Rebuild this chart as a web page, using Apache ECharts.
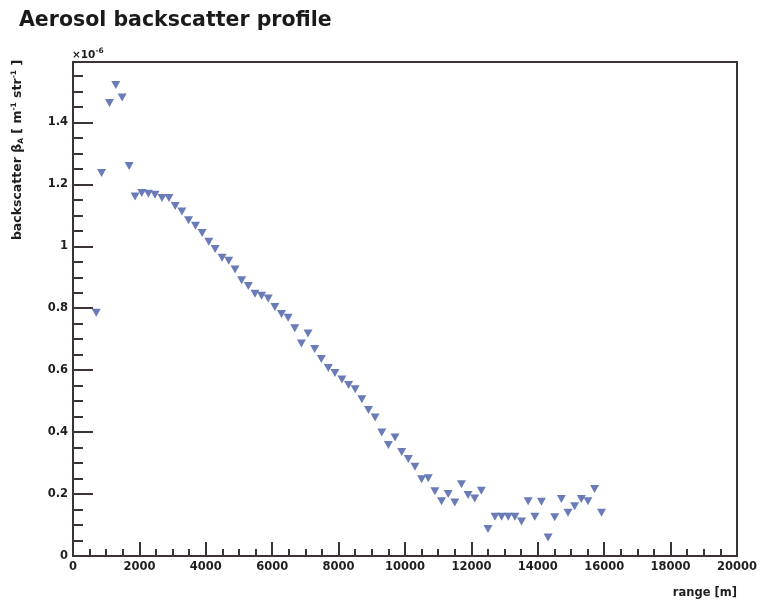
<!DOCTYPE html>
<html>
<head>
<meta charset="utf-8">
<script src="https://cdn.jsdelivr.net/npm/echarts@6/dist/echarts.min.js"></script>
<style>
html,body{margin:0;padding:0;background:#fff;}
#c{width:760px;height:603px;}
</style>
</head>
<body>
<div id="c"></div>
<script>
// range [m]
const rangeM = [700, 860, 1100, 1290, 1480, 1690, 1870, 2070, 2270, 2470, 2680, 2890, 3080, 3280, 3480, 3690, 3890, 4090, 4280, 4490,
  4690, 4880, 5080, 5280, 5480, 5680, 5880, 6080, 6280, 6480, 6680, 6880, 7080, 7280, 7480, 7690, 7890, 8100, 8300, 8500,
  8700, 8900, 9100, 9300, 9500, 9700, 9900, 10100, 10300, 10500, 10700, 10900, 11100, 11300, 11500, 11700, 11900, 12100, 12300, 12500,
  12710, 12910, 13110, 13310, 13510, 13710, 13910, 14110, 14310, 14510, 14710, 14910, 15110, 15310, 15510, 15710, 15920];
// backscatter beta_A [x1e-6 m^-1 str^-1]
const backscatter = [0.785, 1.237, 1.463, 1.521, 1.480, 1.259, 1.161, 1.172, 1.170, 1.166, 1.156, 1.156, 1.130, 1.112, 1.084, 1.066, 1.043, 1.015, 0.991, 0.963,
  0.953, 0.925, 0.890, 0.872, 0.847, 0.840, 0.831, 0.804, 0.781, 0.769, 0.735, 0.686, 0.718, 0.668, 0.636, 0.607, 0.591, 0.570, 0.552, 0.538,
  0.506, 0.471, 0.447, 0.399, 0.358, 0.383, 0.336, 0.313, 0.288, 0.248, 0.251, 0.209, 0.177, 0.200, 0.173, 0.232, 0.197, 0.186, 0.211, 0.087,
  0.127, 0.127, 0.127, 0.127, 0.111, 0.177, 0.127, 0.175, 0.060, 0.125, 0.184, 0.140, 0.161, 0.184, 0.177, 0.216, 0.140];
// axis ticks
const xTicks = [0, 2000, 4000, 6000, 8000, 10000, 12000, 14000, 16000, 18000, 20000];
const yTicks = [0, 0.2, 0.4, 0.6, 0.8, 1, 1.2, 1.4];

const FONT = '"DejaVu Sans", "Liberation Sans", sans-serif';
const AX = '#3a3434';
const TXT = '#1e1e1e';
const chart = echarts.init(document.getElementById('c'), null, {renderer: 'canvas'});
const points = rangeM.map((x, i) => [x, backscatter[i]]);

chart.setOption({
  animation: false,
  backgroundColor: '#fff',
  grid: {left: 73, right: 22, top: 62, bottom: 47, show: true, borderColor: AX, borderWidth: 2, backgroundColor: 'transparent'},
  xAxis: {
    type: 'value', min: xTicks[0], max: xTicks[xTicks.length - 1], interval: 2000,
    axisLine: {show: true, onZero: false, lineStyle: {color: AX, width: 2}},
    axisTick: {show: true, inside: true, length: 14, lineStyle: {color: AX, width: 2}},
    minorTick: {show: true, splitNumber: 4, length: 7, lineStyle: {color: AX, width: 2}},
    splitLine: {show: false},
    axisLabel: {margin: 5, color: TXT, fontFamily: FONT, fontWeight: 'bold', fontSize: 11.5,
      formatter: v => xTicks.includes(v) ? String(v) : ''}
  },
  yAxis: {
    type: 'value', min: 0, max: 1.595, interval: 0.2,
    axisLine: {show: true, onZero: false, lineStyle: {color: AX, width: 2}},
    axisTick: {show: true, inside: true, length: 20, lineStyle: {color: AX, width: 2}},
    minorTick: {show: true, splitNumber: 4, length: 10, lineStyle: {color: AX, width: 2}},
    splitLine: {show: false},
    axisLabel: {margin: 5, showMaxLabel: false, color: TXT, fontFamily: FONT, fontWeight: 'bold', fontSize: 11.5,
      formatter: v => {
        const t = yTicks.find(y => Math.abs(y - v) < 1e-6);
        return t === undefined ? '' : String(t);
      }}
  },
  series: [{
    type: 'scatter',
    data: points,
    symbol: 'triangle',
    symbolRotate: 180,
    symbolSize: [9, 8],
    itemStyle: {color: '#6a7bb7', opacity: 1}
  }],
  graphic: [
    {type: 'text', x: 19, y: 21, style: {text: 'Aerosol backscatter profile', font: 'bold 20.5px ' + FONT, fill: '#1a1a1a', verticalAlign: 'middle'}},
    {type: 'text', x: 72, y: 55, style: {
      text: '×10{s|-6}', font: 'bold 10.5px ' + FONT, fill: TXT, verticalAlign: 'middle',
      rich: {s: {font: 'bold 7.5px ' + FONT, fill: TXT, padding: [0, 0, 7, 0]}}
    }},
    {type: 'text', x: 18, y: 150, rotation: Math.PI / 2, style: {
      text: 'backscatter β{b|A} [ m{p|-1} str{p|-1} ]', font: 'bold 12.5px ' + FONT, fill: TXT,
      align: 'center', verticalAlign: 'middle',
      rich: {
        b: {font: 'bold 7.5px ' + FONT, fill: TXT, padding: [7, 0, 0, 0]},
        p: {font: 'bold 7.5px ' + FONT, fill: TXT, padding: [0, 0, 7, 0]}
      }
    }},
    {type: 'text', x: 737, y: 593, style: {text: 'range [m]', font: 'bold 11.5px ' + FONT, fill: TXT, align: 'right', verticalAlign: 'middle'}}
  ]
});
</script>
</body>
</html>
